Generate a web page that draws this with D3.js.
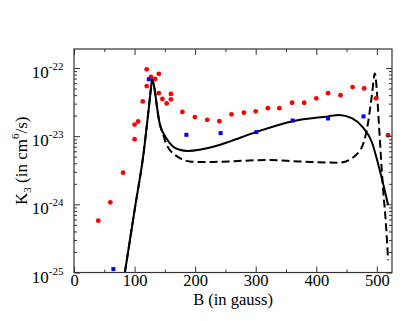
<!DOCTYPE html>
<html>
<head>
<meta charset="utf-8">
<script src="https://cdn.jsdelivr.net/npm/d3@7"></script>
<style>
	body { margin: 0; background: #fff; }
	text { font-family: "Liberation Serif", "DejaVu Serif", serif; fill: #000; }
</style>
</head>
<body>
<svg id="chart"></svg>
<script>
// red circles (experiment)
let redB = [40, 60, 81, 100, 100, 106, 113.5, 120, 120, 127, 134, 140, 140, 146, 153, 160, 160, 179, 199.5, 220, 240, 260, 280.5, 300, 320, 339, 360, 380, 400, 419.5, 440, 460, 479, 498.5, 518.5];
let redK = [-24.24, -23.97, -23.535, -23.045, -22.83, -22.785, -22.49, -22.265, -22.02, -22.13, -22.16, -22.085, -22.37, -22.455, -22.52, -22.46, -22.38, -22.645, -22.72, -22.76, -22.78, -22.68, -22.655, -22.635, -22.59, -22.59, -22.51, -22.51, -22.445, -22.37, -22.4, -22.28, -22.3, -22.445, -22.985];

// blue squares
let blueB = [65, 123.5, 185.5, 242, 301, 361, 419.5, 478];
let blueK = [-24.95, -22.165, -22.98, -22.955, -22.94, -22.77, -22.74, -22.71];

// solid curve
let solidB = [84, 100.3, 115.6, 121.7, 125.8, 128.3, 129.4, 131, 133.2, 137.3, 141.4, 152.4, 163.3, 174.3, 188, 207, 218, 240, 256.6, 300.4, 361.3, 419.4, 437.5, 459.4, 475.8, 492.3, 503.3, 511.5, 518.6];
let solidK = [-25.0, -24.07, -23.2, -22.73, -22.4, -22.205, -22.165, -22.22, -22.32, -22.59, -22.81, -23.03, -23.15, -23.2, -23.217, -23.2, -23.18, -23.13, -23.08, -22.94, -22.78, -22.71, -22.69, -22.74, -22.86, -23.1, -23.45, -23.74, -24.01];

// dashed curve
let dashB = [84, 100.3, 115.6, 121.7, 125.8, 128.3, 129.4, 131, 133.2, 137.3, 141.4, 146.4, 151.3, 157.9, 163.3, 174.3, 190.8, 218, 256.6, 317, 371.7, 437.5, 459.4, 470.4, 475.8, 484, 491.8, 496.7, 500.5, 503.3, 510, 515.3, 518.6];
let dashK = [-25.0, -24.07, -23.2, -22.73, -22.4, -22.205, -22.165, -22.22, -22.32, -22.59, -22.82, -22.95, -23.09, -23.2, -23.25, -23.32, -23.37, -23.38, -23.37, -23.35, -23.37, -23.39, -23.32, -23.23, -23.15, -22.88, -22.4, -22.08, -22.4, -22.81, -23.74, -24.33, -24.82];

let xTicks = [0, 100, 200, 300, 400, 500];
let xMinor = [50, 150, 250, 350, 450];
let yExps = [-25, -24, -23, -22];

function makeChart() {
	let w = 415;
	let h = 321;

	let marginL = 74;
	let marginR = 23;
	let marginT = 49;
	let marginB = 48.5;

	let xScale = d3.scaleLinear()
		.domain([0, 525])
		.range([marginL, w - marginR]);

	let yScale = d3.scaleLog()
		.domain([1e-25, 1.9e-22])
		.range([h - marginB, marginT]);

	let yMinor = [];
	yExps.forEach(e => {
		for (let m = 2; m <= 9; m++) yMinor.push(m * Math.pow(10, e));
	});
	yMinor = yMinor.filter(v => v < 1.9e-22);
	let yMajor = yExps.map(e => Math.pow(10, e));

	let chart = d3.select('#chart')
		.attr('width', w)
		.attr('height', h);

	let plot = chart.append('g');

	// clip to frame
	chart.append('clipPath').attr('id', 'clip')
		.append('rect')
		.attr('x', marginL).attr('y', marginT)
		.attr('width', w - marginR - marginL)
		.attr('height', h - marginB - marginT);

	let lineGen = d3.line()
		.x(d => xScale(d[0]))
		.y(d => yScale(Math.pow(10, d[1])))
		.curve(d3.curveMonotoneX);

	plot.append('path')
		.datum(solidB.map((b, i) => [b, solidK[i]]))
		.attr('d', lineGen)
		.attr('fill', 'none')
		.attr('stroke', '#000')
		.attr('stroke-width', 2)
		.attr('clip-path', 'url(#clip)');

	plot.append('path')
		.datum(dashB.map((b, i) => [b, dashK[i]]))
		.attr('d', lineGen)
		.attr('fill', 'none')
		.attr('stroke', '#000')
		.attr('stroke-width', 2)
		.attr('stroke-dasharray', '8,4')
		.attr('clip-path', 'url(#clip)');

	plot.selectAll('.red')
		.data(redB.map((b, i) => [b, redK[i]]))
		.enter()
		.append('circle')
		.attr('cx', d => xScale(d[0]))
		.attr('cy', d => yScale(Math.pow(10, d[1])))
		.attr('r', 2.4)
		.attr('fill', '#ff0000');

	plot.selectAll('.blue')
		.data(blueB.map((b, i) => [b, blueK[i]]))
		.enter()
		.append('rect')
		.attr('x', d => xScale(d[0]) - 2)
		.attr('y', d => yScale(Math.pow(10, d[1])) - 2)
		.attr('width', 4)
		.attr('height', 4)
		.attr('fill', '#0000ff');

	//AXES
	let x0 = h - marginB;
	// bottom
	chart.append('g')
		.attr('transform', `translate(0, ${x0})`)
		.call(d3.axisBottom(xScale).tickValues(xTicks).tickSize(-6).tickPadding(2).tickSizeOuter(0))
		.call(g => g.selectAll('text').attr('font-size', 16.5).attr('font-family', null));
	chart.append('g')
		.attr('transform', `translate(0, ${x0})`)
		.call(d3.axisBottom(xScale).tickValues(xMinor).tickSize(-3).tickFormat('').tickSizeOuter(0));
	// top
	chart.append('g')
		.attr('transform', `translate(0, ${marginT})`)
		.call(d3.axisTop(xScale).tickValues(xTicks).tickSize(-6).tickFormat('').tickSizeOuter(0));
	chart.append('g')
		.attr('transform', `translate(0, ${marginT})`)
		.call(d3.axisTop(xScale).tickValues(xMinor).tickSize(-3).tickFormat('').tickSizeOuter(0));
	// left
	chart.append('g')
		.attr('transform', `translate(${marginL}, 0)`)
		.call(d3.axisLeft(yScale).tickValues(yMajor).tickSize(-6).tickFormat('').tickSizeOuter(0));
	chart.append('g')
		.attr('transform', `translate(${marginL}, 0)`)
		.call(d3.axisLeft(yScale).tickValues(yMinor).tickSize(-3).tickFormat('').tickSizeOuter(0));
	// right
	chart.append('g')
		.attr('transform', `translate(${w - marginR}, 0)`)
		.call(d3.axisRight(yScale).tickValues(yMajor).tickSize(-6).tickFormat('').tickSizeOuter(0));
	chart.append('g')
		.attr('transform', `translate(${w - marginR}, 0)`)
		.call(d3.axisRight(yScale).tickValues(yMinor).tickSize(-3).tickFormat('').tickSizeOuter(0));

	chart.selectAll('.domain').attr('stroke', 'none');
	chart.selectAll('.tick line').attr('stroke', '#333');

	// y tick labels 10^n
	let ylab = chart.append('g').selectAll('text')
		.data(yExps)
		.enter()
		.append('text')
		.attr('x', marginL - 10.5)
		.attr('y', e => yScale(Math.pow(10, e)) + 10)
		.attr('text-anchor', 'end');
	ylab.append('tspan').attr('font-size', 17).text('10');
	ylab.append('tspan').attr('font-size', 11).attr('dy', -8).text(e => String(e));

	// frame
	chart.append('rect')
		.attr('x', marginL).attr('y', marginT)
		.attr('width', w - marginR - marginL)
		.attr('height', h - marginB - marginT)
		.attr('fill', 'none')
		.attr('stroke', '#333')
		.attr('stroke-width', 1.2);

	// LABELS
	chart.append('text')
		.attr('x', (marginL + w - marginR) / 2)
		.attr('y', 305)
		.attr('text-anchor', 'middle')
		.attr('font-size', 16.5)
		.text('B (in gauss)');

	let yl = chart.append('text')
		.attr('transform', `translate(27, ${(marginT + h - marginB) / 2}) rotate(-90)`)
		.attr('text-anchor', 'middle')
		.attr('font-size', 17);
	yl.append('tspan').text('K');
	yl.append('tspan').attr('font-size', 11).attr('dy', 4).text('3');
	yl.append('tspan').attr('dy', -4).text(' (in cm');
	yl.append('tspan').attr('font-size', 11).attr('dy', -8).text('6');
	yl.append('tspan').attr('dy', 8).text('/s)');
}

window.onload = function () {
	makeChart();
}
</script>
</body>
</html>
